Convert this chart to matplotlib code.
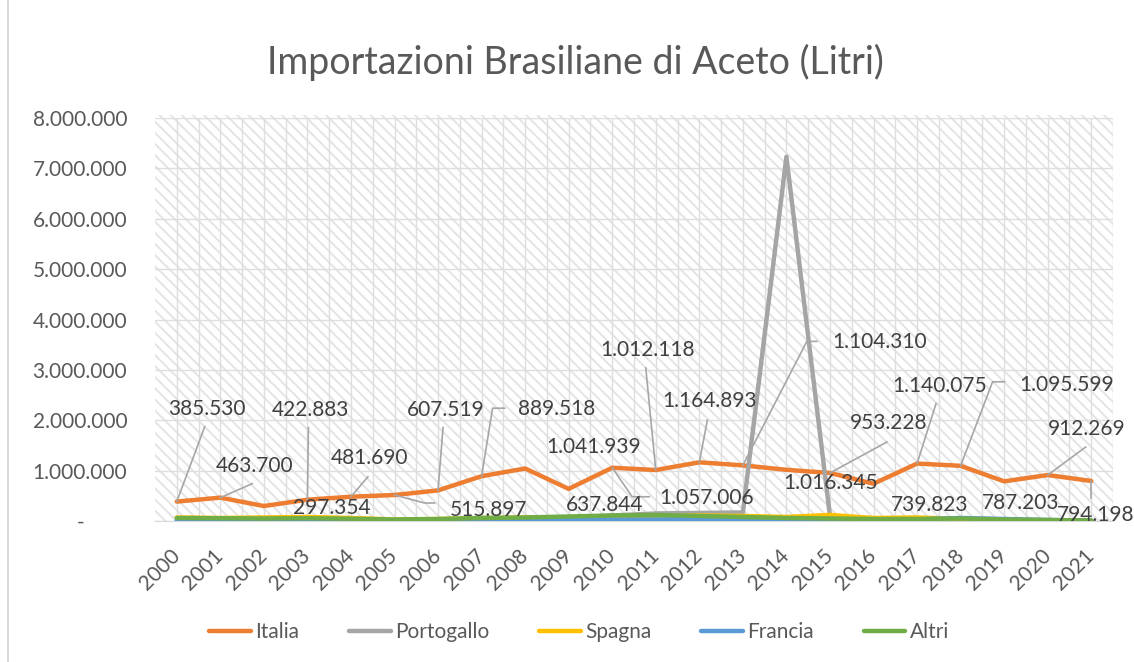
import numpy as np
import matplotlib
matplotlib.use("Agg")
import matplotlib.pyplot as plt
from matplotlib.lines import Line2D
from matplotlib.patches import Rectangle
from matplotlib.ticker import FuncFormatter, MultipleLocator
from matplotlib.transforms import IdentityTransform, ScaledTranslation

plt.rcParams['font.family'] = ['Lato', 'DejaVu Sans']
plt.rcParams['hatch.linewidth'] = 1.4

# Data (litres per year)
years = [str(y) for y in range(2000, 2022)]
italia = [385530, 463700, 297354, 422883, 481690, 515897, 607519, 889518,
          1041939, 637844, 1057006, 1012118, 1164893, 1104310, 1016345,
          953228, 739823, 1140075, 1095599, 787203, 912269, 794198]
portogallo = [0, 10000, 20000, 10000, 20000, 15000, 20000, 50000, 60000, 60000,
              110000, 150000, 160000, 170000, 7230000, 100000, 10000, 5000,
              5000, 5000, 3000, 2000]
spagna = [70000, 60000, 70000, 80000, 60000, 30000, 40000, 60000, 70000, 60000,
          80000, 90000, 110000, 100000, 80000, 120000, 60000, 70000, 40000,
          30000, 10000, 5000]
francia = [10000, 5000, 5000, 8000, 10000, 5000, 10000, 20000, 20000, 30000,
           30000, 30000, 40000, 40000, 30000, 40000, 20000, 30000, 60000,
           40000, 20000, 10000]
altri = [60000, 55000, 50000, 55000, 45000, 30000, 40000, 60000, 70000, 90000,
         110000, 120000, 100000, 80000, 60000, 50000, 40000, 40000, 50000,
         30000, 20000, 10000]

series = [("Italia", italia, "#ED7D31"),
          ("Portogallo", portogallo, "#A5A5A5"),
          ("Spagna", spagna, "#FFC000"),
          ("Francia", francia, "#5B9BD5"),
          ("Altri", altri, "#70AD47")]

# label placement for the Italia data labels, pixel offsets from the point (y down)
label_offsets = [(30, -93), (34, -32), (68, 2), (3, -90), (19, -39), (94, 15),
                 (8, -80), (75, -67), (68, -22), (36, 16), (94, 30), (-8, -120),
                 (10, -61), (137, -123), (44, 13), (59, -50), (56, 21), (23, -78),
                 (106, -81), (16, 22), (39, -46), (4, 34)]
leaders = [[(28, -75)], [(32, -14)], None, [(1, -72)], [(17, -20)],
           [(30, 8), (40, 8)], [(5, -63)], [(11, -68), (23, -68)], None, None,
           [(20, 29), (37, 29)], [(-10, -102)], [(8, -42)],
           [(64, -124), (74, -124)], None, [(57, -31)], None, [(19, -60)],
           [(32, -84), (44, -84)], None, [(38, -28)], [(0, 17)]]

W, H = 1134, 662
fig = plt.figure(figsize=(W / 100, H / 100), dpi=100)
ax = fig.add_axes([155 / W, 1 - 521 / H, (1113 - 155) / W, (521 - 118) / H])

# hatched plot area like the Excel style
ax.set_facecolor("white")
ax.add_patch(Rectangle((0, 0), 1, 1.008, transform=ax.transAxes, facecolor="white",
                       edgecolor="#e4e4e4", hatch="\\\\\\", lw=0, zorder=0,
                       clip_on=False))

x = np.arange(len(years))
for i, (name, vals, col) in enumerate(series):
    ax.plot(x, vals, color=col, lw=3.2, solid_capstyle="round",
            solid_joinstyle="round", zorder=3 + i, label=name)

ax.set_xlim(-0.5, len(years) - 0.5)
ax.set_ylim(0, 8e6)
ax.yaxis.set_major_locator(MultipleLocator(1e6))
ax.yaxis.set_major_formatter(FuncFormatter(
    lambda v, p: "-        " if v == 0 else f"{int(v):,}".replace(",", ".")))
ax.set_xticks(x)
ax.set_xticks(x + 0.5, minor=True)
ax.set_xticklabels(years, rotation=45, ha="right", va="center",
                   rotation_mode="anchor")
ax.grid(True, which="both", color="#dedede", lw=1, zorder=1)
ax.set_axisbelow(True)
ax.tick_params(axis="both", which="both", length=0, colors="#595959",
               labelsize=15)
ax.tick_params(axis="y", pad=20)
ax.tick_params(axis="x", pad=23)
for s in ["top", "right", "left"]:
    ax.spines[s].set_visible(False)
ax.spines["bottom"].set_color("#d9d9d9")

# data labels with leader lines
for i, v in enumerate(italia):
    base = ScaledTranslation(x[i], v, ax.transData)
    dx, dy = label_offsets[i]
    ax.text(dx, -dy, f"{v:,}".replace(",", "."), transform=IdentityTransform() + base,
            ha="center", va="center", fontsize=15, color="#404040", zorder=20)
    if leaders[i]:
        pts = [(0, 0)] + leaders[i]
        ax.add_line(Line2D([p[0] for p in pts], [-p[1] for p in pts],
                           transform=IdentityTransform() + base, color="#a6a6a6",
                           lw=1.2, zorder=19, clip_on=False))

fig.text(575 / W, 1 - 62 / H, "Importazioni Brasiliane di Aceto (Litri)",
         ha="center", va="center", fontsize=27, color="#595959")

fig.legend(*ax.get_legend_handles_labels(), loc="center",
           bbox_to_anchor=(579 / W, 1 - 632 / H), ncol=5, frameon=False,
           fontsize=15, labelcolor="#595959", handlelength=2.0,
           handletextpad=0.2, columnspacing=2.4)

# chart border
fig.add_artist(Line2D([8 / W, 8 / W], [0, 1], transform=fig.transFigure,
                      color="#d9d9d9", lw=1.5))

fig.savefig("out.png", dpi=100)
